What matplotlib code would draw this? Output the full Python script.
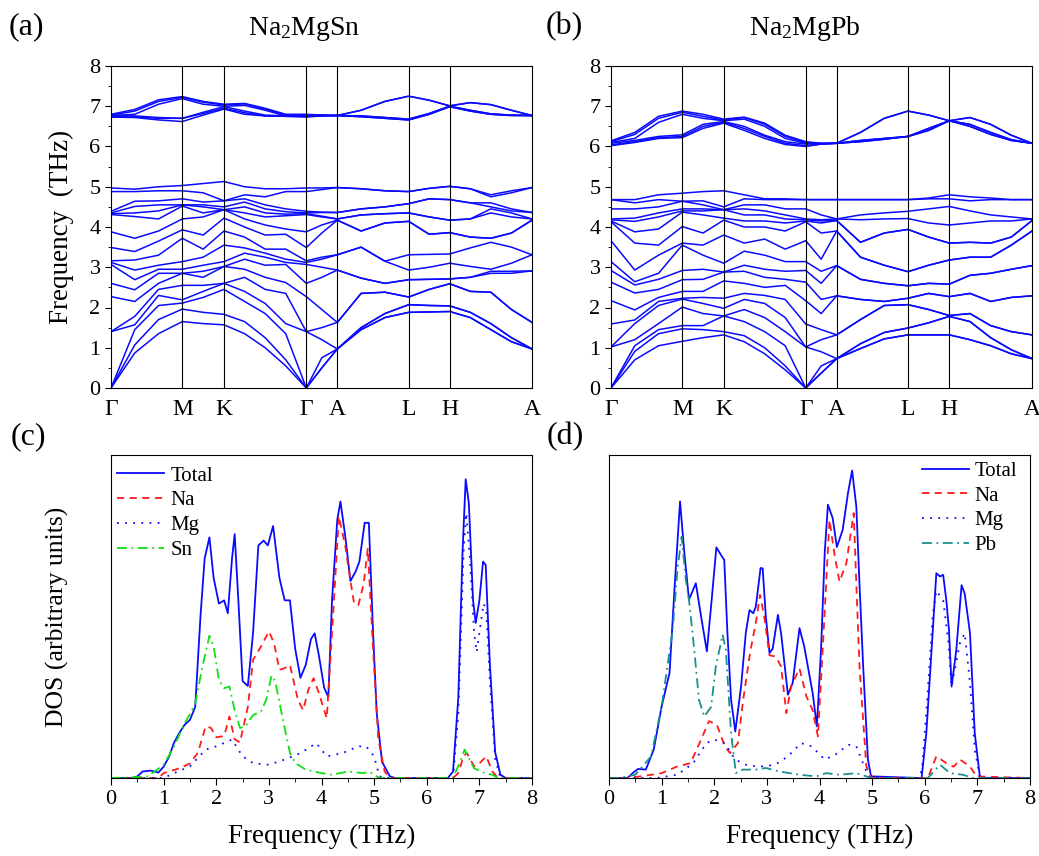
import numpy as np
import matplotlib
matplotlib.use('Agg')
import matplotlib.pyplot as plt

plt.rcParams['font.family'] = ['Liberation Serif', 'DejaVu Serif']
plt.rcParams['mathtext.fontset'] = 'custom'
plt.rcParams['mathtext.rm'] = 'Liberation Serif'
plt.rcParams['mathtext.it'] = 'Liberation Serif:italic'

BLUE = '#0a0aff'

# ---------------- phonon dispersion ----------------
klabels = ['Γ', 'M', 'K', 'Γ', 'A', 'L', 'H', 'A']
hs_sn = [0, 71.3, 113.0, 195.3, 226.3, 297.7, 338.7, 421.0]
hs_pb = [0, 71.3, 112.7, 194.7, 225.7, 297.0, 338.3, 421.0]
# number of sampled intervals along each path segment
seg_steps = [3, 2, 4, 2, 3, 2, 4]

# Na2MgSn acoustic + low optical branches (THz), one row per k-point
sn_low = [
    [0, 0, 0, 1.40, 1.40, 2.27, 2.60, 3.07, 3.12, 3.16, 3.49, 3.88, 4.31, 4.33, 4.35, 4.39, 4.88, 4.97],
    [0.87, 1.07, 1.45, 1.57, 1.78, 2.15, 2.44, 2.69, 2.93, 3.18, 3.39, 3.72, 4.26, 4.35, 4.51, 4.64, 4.88, 4.94],
    [1.35, 1.70, 2.05, 2.30, 2.45, 2.60, 2.85, 2.95, 3.05, 3.30, 3.65, 3.90, 4.20, 4.40, 4.55, 4.65, 4.90, 5.00],
    [1.65, 1.96, 2.11, 2.19, 2.55, 2.85, 2.85, 2.95, 3.14, 3.72, 3.93, 4.20, 4.52, 4.55, 4.55, 4.70, 4.90, 5.03],
    [1.60, 1.88, 2.25, 2.40, 2.55, 2.75, 2.90, 3.05, 3.25, 3.45, 3.80, 4.25, 4.35, 4.50, 4.55, 4.62, 4.85, 5.08],
    [1.57, 1.83, 2.45, 2.60, 2.60, 3.02, 3.02, 3.14, 3.55, 3.90, 4.22, 4.43, 4.43, 4.43, 4.50, 4.65, 4.65, 5.13],
    [1.35, 1.65, 2.15, 2.40, 2.75, 2.95, 3.20, 3.35, 3.48, 3.75, 4.00, 4.20, 4.35, 4.50, 4.62, 4.70, 4.80, 5.00],
    [1.00, 1.25, 1.85, 2.10, 2.45, 2.75, 3.05, 3.25, 3.35, 3.45, 3.80, 4.05, 4.25, 4.35, 4.45, 4.55, 4.75, 4.95],
    [0.55, 0.70, 1.35, 1.60, 2.35, 2.62, 3.07, 3.12, 3.20, 3.45, 3.82, 3.95, 4.28, 4.32, 4.38, 4.45, 4.88, 4.95],
    [0, 0, 0, 1.40, 1.40, 2.27, 2.60, 3.07, 3.12, 3.16, 3.49, 3.88, 4.31, 4.33, 4.35, 4.39, 4.88, 4.97],
    [0.50, 0.50, 0.75, 1.20, 1.50, 1.95, 2.75, 3.00, 3.20, 3.25, 3.85, 4.05, 4.25, 4.27, 4.36, 4.37, 4.93, 4.97],
    [0.97, 0.97, 0.97, 0.97, 1.63, 1.63, 2.93, 2.93, 3.31, 3.31, 4.17, 4.17, 4.20, 4.20, 4.36, 4.36, 4.98, 4.98],
    [1.45, 1.45, 1.50, 1.50, 2.35, 2.35, 2.73, 2.73, 3.50, 3.50, 3.90, 3.90, 4.30, 4.30, 4.45, 4.45, 4.95, 4.95],
    [1.75, 1.75, 1.85, 1.85, 2.38, 2.38, 2.60, 2.60, 3.15, 3.15, 4.10, 4.10, 4.33, 4.33, 4.50, 4.50, 4.90, 4.90],
    [1.88, 1.88, 2.07, 2.07, 2.26, 2.26, 2.69, 2.69, 2.93, 3.31, 4.14, 4.14, 4.35, 4.35, 4.58, 4.58, 4.88, 4.88],
    [1.89, 1.89, 2.05, 2.05, 2.45, 2.45, 2.70, 2.70, 3.00, 3.32, 3.82, 3.82, 4.25, 4.25, 4.70, 4.70, 4.96, 4.96],
    [1.90, 1.90, 2.04, 2.04, 2.59, 2.59, 2.71, 2.71, 3.10, 3.33, 3.86, 3.86, 4.17, 4.17, 4.68, 4.68, 5.01, 5.01],
    [1.75, 1.75, 1.88, 1.88, 2.40, 2.40, 2.75, 2.75, 3.02, 3.48, 3.75, 3.75, 4.20, 4.20, 4.60, 4.60, 4.95, 4.95],
    [1.45, 1.45, 1.60, 1.60, 2.38, 2.38, 2.85, 2.90, 2.95, 3.62, 3.72, 3.72, 4.35, 4.45, 4.50, 4.60, 4.75, 4.80],
    [1.15, 1.15, 1.25, 1.25, 1.95, 1.95, 2.85, 2.90, 3.10, 3.50, 3.85, 3.85, 4.25, 4.35, 4.40, 4.45, 4.85, 4.90],
    [0.97, 0.97, 0.97, 0.97, 1.63, 1.63, 2.91, 2.91, 3.31, 3.31, 4.17, 4.17, 4.20, 4.20, 4.36, 4.36, 4.98, 4.98],
]
# Na2MgSn high optical (Mg) branches
sn_high = [
    [6.73, 6.75, 6.76, 6.77, 6.78, 6.80],
    [6.72, 6.74, 6.76, 6.80, 6.88, 6.92],
    [6.66, 6.70, 6.72, 7.05, 7.12, 7.16],
    [6.62, 6.70, 6.70, 7.19, 7.22, 7.24],
    [6.78, 6.82, 6.85, 7.05, 7.10, 7.12],
    [6.93, 6.95, 6.99, 7.00, 7.03, 7.05],
    [6.80, 6.84, 6.88, 7.02, 7.06, 7.07],
    [6.76, 6.76, 6.78, 6.90, 6.93, 6.95],
    [6.75, 6.75, 6.76, 6.76, 6.79, 6.80],
    [6.73, 6.75, 6.76, 6.77, 6.78, 6.80],
    [6.76, 6.76, 6.77, 6.77, 6.78, 6.78],
    [6.77, 6.77, 6.77, 6.77, 6.77, 6.77],
    [6.74, 6.74, 6.76, 6.76, 6.90, 6.90],
    [6.70, 6.70, 6.72, 6.72, 7.12, 7.12],
    [6.66, 6.66, 6.68, 6.68, 7.25, 7.25],
    [6.80, 6.80, 6.82, 6.82, 7.15, 7.15],
    [6.99, 6.99, 7.00, 7.00, 7.01, 7.01],
    [6.88, 6.88, 6.90, 6.90, 7.09, 7.09],
    [6.80, 6.80, 6.81, 6.81, 7.04, 7.04],
    [6.77, 6.77, 6.78, 6.78, 6.90, 6.90],
    [6.77, 6.77, 6.77, 6.77, 6.77, 6.77],
]

# Na2MgPb
pb_low = [
    [0, 0, 0, 1.02, 1.02, 1.59, 2.17, 2.63, 2.92, 3.14, 3.66, 4.13, 4.15, 4.18, 4.20, 4.45, 4.68, 4.68],
    [0.70, 0.91, 1.05, 1.20, 1.60, 1.69, 1.94, 2.36, 2.56, 2.64, 2.93, 3.60, 3.88, 4.14, 4.22, 4.45, 4.60, 4.68],
    [1.05, 1.35, 1.45, 1.60, 2.05, 2.15, 2.25, 2.45, 2.70, 2.85, 3.30, 3.55, 3.95, 4.25, 4.35, 4.50, 4.68, 4.80],
    [1.16, 1.47, 1.55, 2.01, 2.21, 2.23, 2.40, 2.69, 2.92, 3.55, 3.60, 4.01, 4.37, 4.40, 4.45, 4.64, 4.64, 4.84],
    [1.25, 1.45, 1.55, 1.85, 2.10, 2.25, 2.40, 2.70, 2.95, 3.30, 3.55, 3.85, 4.30, 4.40, 4.45, 4.55, 4.65, 4.88],
    [1.32, 1.40, 1.79, 1.79, 1.98, 2.23, 2.66, 2.88, 2.88, 3.10, 3.80, 4.17, 4.22, 4.43, 4.43, 4.43, 4.50, 4.90],
    [1.15, 1.30, 1.65, 1.95, 2.20, 2.35, 2.60, 2.90, 3.05, 3.40, 3.60, 4.00, 4.15, 4.30, 4.45, 4.55, 4.70, 4.80],
    [0.85, 1.00, 1.40, 1.75, 2.10, 2.30, 2.50, 2.75, 2.95, 3.30, 3.70, 4.00, 4.15, 4.30, 4.40, 4.55, 4.68, 4.70],
    [0.45, 0.55, 1.05, 1.40, 1.75, 2.20, 2.55, 2.70, 2.90, 3.14, 3.45, 3.90, 4.10, 4.20, 4.30, 4.45, 4.68, 4.70],
    [0, 0, 0, 1.02, 1.02, 1.59, 2.17, 2.63, 2.92, 3.14, 3.66, 4.13, 4.15, 4.18, 4.20, 4.45, 4.68, 4.68],
    [0.37, 0.37, 0.55, 0.90, 1.20, 1.45, 1.85, 2.20, 2.60, 2.90, 3.20, 3.85, 4.10, 4.15, 4.18, 4.30, 4.68, 4.68],
    [0.73, 0.73, 0.73, 0.73, 1.32, 1.32, 2.29, 2.29, 3.04, 3.04, 3.90, 3.90, 4.16, 4.16, 4.20, 4.20, 4.68, 4.68],
    [0.98, 0.98, 1.10, 1.10, 1.70, 1.70, 2.20, 2.20, 2.70, 2.70, 3.25, 3.25, 3.62, 3.62, 4.18, 4.30, 4.68, 4.68],
    [1.22, 1.22, 1.38, 1.38, 2.05, 2.05, 2.15, 2.15, 2.60, 2.60, 3.05, 3.05, 3.85, 3.85, 4.20, 4.35, 4.68, 4.68],
    [1.32, 1.32, 1.49, 1.49, 2.07, 2.07, 2.23, 2.23, 2.54, 2.54, 2.89, 2.89, 3.94, 3.94, 4.21, 4.39, 4.68, 4.68],
    [1.32, 1.32, 1.62, 1.62, 1.95, 1.95, 2.35, 2.35, 2.60, 2.60, 3.05, 3.05, 3.75, 3.75, 4.10, 4.45, 4.70, 4.72],
    [1.32, 1.32, 1.78, 1.78, 1.80, 1.80, 2.27, 2.27, 2.58, 2.58, 3.18, 3.18, 3.60, 3.60, 4.05, 4.51, 4.70, 4.80],
    [1.20, 1.20, 1.65, 1.65, 1.85, 1.85, 2.35, 2.35, 2.80, 2.80, 3.25, 3.25, 3.62, 3.62, 4.10, 4.40, 4.65, 4.75],
    [1.05, 1.05, 1.25, 1.25, 1.55, 1.55, 2.15, 2.15, 2.85, 2.85, 3.25, 3.25, 3.60, 3.60, 4.15, 4.30, 4.68, 4.72],
    [0.85, 0.85, 0.95, 0.95, 1.40, 1.40, 2.25, 2.25, 2.95, 2.95, 3.55, 3.55, 3.75, 3.75, 4.15, 4.25, 4.68, 4.68],
    [0.73, 0.73, 0.73, 0.73, 1.32, 1.32, 2.29, 2.29, 3.04, 3.04, 3.90, 3.90, 4.16, 4.16, 4.20, 4.20, 4.68, 4.68],
]
pb_high = [
    [6.02, 6.04, 6.08, 6.10, 6.12, 6.14],
    [6.10, 6.12, 6.15, 6.20, 6.30, 6.35],
    [6.20, 6.22, 6.25, 6.60, 6.70, 6.75],
    [6.22, 6.25, 6.29, 6.80, 6.85, 6.88],
    [6.45, 6.50, 6.55, 6.70, 6.75, 6.80],
    [6.58, 6.60, 6.62, 6.64, 6.66, 6.68],
    [6.40, 6.45, 6.50, 6.68, 6.72, 6.73],
    [6.20, 6.25, 6.28, 6.50, 6.55, 6.58],
    [6.05, 6.08, 6.12, 6.20, 6.25, 6.28],
    [6.00, 6.02, 6.06, 6.08, 6.10, 6.12],
    [6.06, 6.06, 6.07, 6.07, 6.08, 6.08],
    [6.08, 6.08, 6.08, 6.08, 6.08, 6.08],
    [6.12, 6.12, 6.15, 6.15, 6.35, 6.35],
    [6.18, 6.18, 6.20, 6.20, 6.70, 6.70],
    [6.25, 6.25, 6.25, 6.25, 6.88, 6.88],
    [6.40, 6.40, 6.45, 6.45, 6.78, 6.78],
    [6.64, 6.64, 6.64, 6.64, 6.64, 6.64],
    [6.50, 6.50, 6.55, 6.55, 6.72, 6.72],
    [6.30, 6.30, 6.35, 6.35, 6.55, 6.55],
    [6.15, 6.15, 6.17, 6.17, 6.28, 6.28],
    [6.08, 6.08, 6.08, 6.08, 6.08, 6.08],
]

# ---------------- phonon DOS (arbitrary units) ----------------
sn_tot_f = [0, 0.4, 0.5, 0.6, 0.75, 0.9, 1.0, 1.1, 1.2, 1.3, 1.4, 1.5, 1.6, 1.7, 1.78, 1.87, 1.95, 2.05, 2.15,
            2.22, 2.3, 2.35, 2.42, 2.5, 2.6, 2.7, 2.8, 2.9, 2.98, 3.08, 3.2, 3.3, 3.4, 3.5, 3.6, 3.7, 3.8, 3.87,
            3.95, 4.05, 4.13, 4.2, 4.3, 4.36, 4.45, 4.55, 4.65, 4.72, 4.82, 4.9, 4.98, 5.05, 5.15, 5.3, 5.4,
            6.4, 6.5, 6.6, 6.68, 6.74, 6.8, 6.88, 6.93, 7.0, 7.07, 7.12, 7.2, 7.3, 7.4, 7.5, 8.0]
sn_tot_d = [0, 0, 0.5, 2.0, 2.3, 1.7, 3.5, 6.5, 11, 14, 16.5, 18, 22, 50, 68, 74.5, 62, 54, 55,
            51, 68, 75.5, 55, 30, 28.5, 45, 72, 73.5, 72, 78, 62, 55, 55, 40, 31, 35, 43, 44.8,
            38, 28, 25, 55, 80, 85.6, 75, 61, 64, 67, 79, 79, 45, 20, 5, 0.5, 0,
            0, 2, 25, 70, 92.5, 85, 55, 48, 55, 67, 66, 35, 8, 1, 0, 0]
sn_na_f = [0, 0.9, 1.0, 1.3, 1.5, 1.65, 1.8, 1.9, 2.0, 2.15, 2.25, 2.35, 2.45, 2.6, 2.7, 2.85, 3.0, 3.1, 3.2,
           3.3, 3.4, 3.55, 3.65, 3.75, 3.85, 3.95, 4.1, 4.2, 4.33, 4.45, 4.55, 4.62, 4.7, 4.8, 4.88, 4.98,
           5.08, 5.2, 5.3, 6.5, 6.6, 6.7, 6.76, 6.9, 7.0, 7.13, 7.25, 7.35, 8.0]
sn_na_d = [0, 0, 1.5, 3, 4.5, 7.8, 16, 15.5, 12.6, 13, 19, 12, 11, 22, 36.6, 40.7, 45.4, 41.7, 33.5,
           34, 35, 24.3, 21, 27.3, 30.9, 26.3, 18.5, 45, 81, 72, 61, 54, 53.5, 60, 71, 40,
           12, 2, 0, 0, 1.5, 6.7, 7.8, 3.6, 4.5, 6.7, 2, 0, 0]
sn_mg_f = [0, 1.0, 1.2, 1.5, 1.8, 2.0, 2.3, 2.5, 2.7, 3.0, 3.3, 3.6, 3.9, 4.1, 4.4, 4.7, 4.85, 5.0, 5.1, 5.2,
           6.5, 6.6, 6.7, 6.75, 6.82, 6.9, 6.95, 7.0, 7.08, 7.13, 7.2, 7.3, 7.4, 8.0]
sn_mg_d = [0, 0, 1.5, 3.6, 8.8, 9.8, 11.9, 6.7, 4.6, 4.1, 5.7, 7.7, 10.8, 6.7, 7.7, 9.8, 9.8, 6.7, 0.5, 0,
           0, 20, 70, 82, 68, 45, 39, 45, 54, 52, 30, 6, 0, 0]
sn_sn_f = [0, 0.4, 0.7, 1.0, 1.2, 1.4, 1.5, 1.6, 1.75, 1.87, 1.95, 2.05, 2.15, 2.25, 2.35, 2.45, 2.55, 2.7,
           2.85, 2.95, 3.05, 3.12, 3.25, 3.4, 3.5, 3.7, 4.0, 4.2, 4.5, 4.8, 4.9, 5.0, 5.1, 6.5, 6.65, 6.72,
           6.78, 6.9, 7.1, 7.25, 7.35, 8.0]
sn_sn_d = [0, 0.2, 0.5, 4.1, 9.8, 17, 19.8, 23, 35.5, 44, 40.7, 30.4, 27.8, 28.3, 21, 15.5, 15.9, 19.5,
           20.6, 24.2, 31.7, 30, 19.4, 7.8, 4.6, 2.6, 1.5, 1, 2, 1.5, 2, 1, 0, 0, 5.7, 8.8,
           6.7, 3, 1.5, 1, 0, 0]

pb_tot_f = [0, 0.35, 0.45, 0.55, 0.7, 0.85, 1.0, 1.15, 1.25, 1.35, 1.43, 1.52, 1.65, 1.75, 1.86, 1.95, 2.04,
            2.13, 2.19, 2.25, 2.32, 2.4, 2.51, 2.6, 2.67, 2.74, 2.79, 2.88, 2.92, 2.98, 3.05, 3.11, 3.21, 3.27,
            3.4, 3.49, 3.62, 3.71, 3.87, 3.95, 4.03, 4.1, 4.16, 4.25, 4.33, 4.44, 4.54, 4.62, 4.7, 4.76,
            4.83, 4.92, 4.98, 5.9, 5.94, 6.03, 6.13, 6.22, 6.29, 6.35, 6.41, 6.46, 6.51, 6.6, 6.7, 6.76,
            6.86, 6.95, 7.05, 8.0]
pb_tot_d = [0, 0, 1.5, 2.8, 2.6, 8.8, 22.1, 32.5, 60, 85.6, 70, 55.2, 60.3, 50, 39.2, 55, 71.4,
            69, 67.5, 45, 24.2, 14.4, 28.4, 45, 52, 51, 53, 65, 64.9, 50, 38.7, 40, 50.5, 44.8,
            25.8, 29.4, 46.4, 40.7, 26.3, 16, 40, 70, 84.6, 80.5, 71.5, 76.8, 88.1, 95.2, 84, 60,
            34.5, 5.7, 0.5, 0, 0, 13.9, 39.7, 63.4, 62.4, 62.9, 55, 45.9, 28.3, 39.7, 59.7, 57,
            44.8, 13.9, 0, 0]
pb_na_f = [0, 0.3, 0.6, 1.0, 1.3, 1.55, 1.75, 1.9, 2.05, 2.2, 2.3, 2.45, 2.55, 2.68, 2.8, 2.87, 2.95, 3.05,
           3.17, 3.27, 3.37, 3.46, 3.62, 3.75, 3.87, 3.97, 4.06, 4.19, 4.29, 4.38, 4.51, 4.65, 4.7, 4.76,
           4.89, 4.98, 6.06, 6.22, 6.41, 6.55, 6.67, 6.86, 6.98, 8.0]
pb_na_d = [0, 0, 0.5, 1.5, 3.6, 4.6, 11.9, 17.6, 16.5, 9.8, 7.7, 10.8, 24.2, 38.7, 49, 56.7, 50, 38,
           37.6, 34.5, 20.1, 28.4, 33.9, 25.3, 21, 12.9, 39.7, 79.9, 68.6, 60.8, 66.5, 82, 60, 34.5,
           3.6, 0, 0, 6.7, 4.6, 3.5, 5.7, 3.6, 0.5, 0]
pb_mg_f = [0, 0.9, 1.3, 1.6, 1.85, 2.0, 2.2, 2.4, 2.6, 2.8, 3.0, 3.2, 3.4, 3.65, 3.85, 4.1, 4.3, 4.55, 4.7,
           4.85, 4.95, 5.9, 5.95, 6.05, 6.15, 6.22, 6.35, 6.45, 6.51, 6.6, 6.67, 6.76, 6.86, 6.95, 7.05, 8.0]
pb_mg_d = [0, 0, 1, 4.6, 10.8, 11.9, 10.8, 5.7, 4.1, 3.6, 3.6, 4.6, 6.7, 10.8, 9.8, 5.7, 7.2, 10.3, 9.8,
           3.6, 0, 0, 3, 25, 50, 58, 55, 42, 28.3, 36, 41.9, 44.8, 29.3, 8.8, 0, 0]
pb_pb_f = [0, 0.2, 0.5, 0.8, 1.0, 1.21, 1.3, 1.38, 1.46, 1.52, 1.62, 1.71, 1.81, 1.94, 2.03, 2.16, 2.22,
           2.32, 2.41, 2.54, 2.79, 2.98, 3.24, 3.62, 3.94, 4.13, 4.38, 4.7, 4.89, 4.98, 6.06, 6.29, 6.48,
           6.73, 6.9, 8.0]
pb_pb_d = [0, 0, 1, 6.7, 22.1, 45.9, 64.4, 74.7, 61.4, 55.2, 39.7, 24.2, 19, 22, 34.5, 44.4, 39.7,
           13.9, 1.5, 2.6, 2.6, 3.1, 2, 1, 0.5, 1.5, 1, 1.5, 0.5, 0, 0, 4.1, 1.5, 1, 0, 0]


def kpath(hs):
    ks = [hs[0]]
    for i, n in enumerate(seg_steps):
        for j in range(1, n + 1):
            ks.append(hs[i] + (hs[i + 1] - hs[i]) * j / n)
    return np.array(ks)


def draw_bands(ax, hs, low, high):
    k = kpath(hs)
    for tab in (low, high):
        arr = np.array(tab)
        for j in range(arr.shape[1]):
            ax.plot(k, arr[:, j], color=BLUE, lw=1.1, solid_joinstyle='round')
    for x in hs[1:-1]:
        ax.axvline(x, color='k', lw=0.8)
    ax.set_xlim(hs[0], hs[-1])
    ax.set_ylim(0, 8)
    ax.set_xticks(hs)
    ax.set_xticklabels(klabels)
    ax.tick_params(axis='x', length=0, pad=8, labelsize=17)
    ax.set_yticks(range(0, 9))
    ax.set_yticks(np.arange(0.5, 8, 1), minor=True)
    ax.tick_params(axis='y', which='major', direction='out', length=4, labelsize=16)
    ax.tick_params(axis='y', which='minor', direction='out', length=2.5)


def draw_dos(ax, curves, legend_loc, anchor):
    for f, d, kw in curves:
        ax.plot(f, d, **kw)
    ax.set_xlim(0, 8)
    ax.set_ylim(0, 100)
    ax.set_yticks([])
    ax.set_xticks(range(0, 9))
    ax.set_xticks(np.arange(0.5, 8, 1), minor=True)
    ax.tick_params(axis='x', which='major', direction='out', length=4.8, labelsize=16)
    ax.tick_params(axis='x', which='minor', direction='out', length=2.9)
    ax.set_xlabel('Frequency (THz)', fontsize=19.5, labelpad=11)
    ax.legend(loc=legend_loc, bbox_to_anchor=anchor, frameon=False, fontsize=15,
              handlelength=2.25, labelspacing=0.25, borderaxespad=0.0, borderpad=0.3,
              handletextpad=0.3)


W, H = 1039, 856
fig = plt.figure(figsize=(W / 100, H / 100), dpi=100)


def box(l, r, t, b):
    return [l / W, 1 - b / H, (r - l) / W, (b - t) / H]


ax_a = fig.add_axes(box(111, 532, 66, 388))
ax_b = fig.add_axes(box(611, 1032, 66, 388))
ax_c = fig.add_axes(box(111, 532, 455, 778))
ax_d = fig.add_axes(box(609, 1030, 455, 778))

draw_bands(ax_a, hs_sn, sn_low, sn_high)
draw_bands(ax_b, hs_pb, pb_low, pb_high)
ax_a.set_ylabel('Frequency  (THz)', fontsize=19.5, labelpad=11)

lw = 1.3
draw_dos(ax_c, [
    (sn_tot_f, sn_tot_d, dict(color=BLUE, lw=lw, label='Total')),
    (sn_na_f, sn_na_d, dict(color='#ff1a1a', lw=lw, ls=(0, (4, 3)), label='Na')),
    (sn_mg_f, sn_mg_d, dict(color=BLUE, lw=lw, ls=(0, (1, 3.5)), label='Mg')),
    (sn_sn_f, sn_sn_d, dict(color='#10e010', lw=lw, ls=(0, (5.5, 2.5, 1, 2.5)), label='Sn')),
], 'upper left', (0.0, 0.985))
draw_dos(ax_d, [
    (pb_tot_f, pb_tot_d, dict(color=BLUE, lw=lw, label='Total')),
    (pb_na_f, pb_na_d, dict(color='#ff1a1a', lw=lw, ls=(0, (4, 3)), label='Na')),
    (pb_mg_f, pb_mg_d, dict(color=BLUE, lw=lw, ls=(0, (1, 3.5)), label='Mg')),
    (pb_pb_f, pb_pb_d, dict(color='#1a8f8f', lw=lw, ls=(0, (5.5, 2.5, 1, 2.5)), label='Pb')),
], 'upper right', (0.985, 1.0))
ax_c.set_ylabel('DOS (arbitrary units)', fontsize=18.5, labelpad=30)

# compound names and panel letters
fig.text(304 / W, 1 - 35 / H, r'Na$_2$MgSn', fontsize=20, ha='center', va='baseline')
fig.text(805 / W, 1 - 35 / H, r'Na$_2$MgPb', fontsize=20, ha='center', va='baseline')
for lab, x, y in [('(a)', 9, 27), ('(b)', 546, 27), ('(c)', 11, 437), ('(d)', 547, 437)]:
    fig.text(x / W, 1 - y / H, lab, fontsize=23, va='center', ha='left')

fig.savefig('out.png', dpi=100)
